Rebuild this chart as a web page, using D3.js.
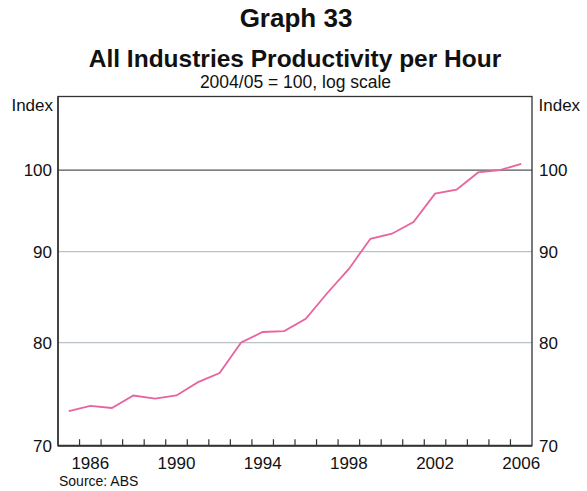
<!DOCTYPE html>
<html>
<head>
<meta charset="utf-8">
<script src="https://cdn.jsdelivr.net/npm/d3@7"></script>
<style>
  body { margin: 0; background: #fff; }
  svg { display: block; font-family: Arial, "Liberation Sans", sans-serif; }
</style>
</head>
<body>
<svg id="chart" width="587" height="491"></svg>
<script>
// Data (fiscal years, plotted mid-year)
const years = [1985,1986,1987,1988,1989,1990,1991,1992,1993,1994,1995,1996,1997,1998,1999,2000,2001,2002,2003,2004,2005,2006];
const productivity = [73.2,73.7,73.5,74.7,74.4,74.7,76.0,76.9,80.0,81.1,81.2,82.5,85.3,88.0,91.5,92.1,93.5,97.0,97.5,99.7,100.0,100.8];
const xTickLabels = [1986,1990,1994,1998,2002,2006];
const yTicks = [70,80,90,100];

(function () {
const svg = d3.select("#chart");
const pLeft = 58, pRight = 532, pTop = 96.5, pBottom = 445.7;

const x = d3.scaleLinear().domain([1985, 2007]).range([pLeft, pRight]);
const y = d3.scaleLog().domain([70, 110]).range([pBottom, pTop]);

// Titles
svg.append("text").attr("x", 296).attr("y", 26.5).attr("text-anchor", "middle")
  .attr("font-size", 26).attr("font-weight", "bold").attr("fill", "#111").text("Graph 33");
svg.append("text").attr("x", 295).attr("y", 66.5).attr("text-anchor", "middle")
  .attr("font-size", 24.5).attr("font-weight", "bold").attr("fill", "#111").text("All Industries Productivity per Hour");
svg.append("text").attr("x", 295.5).attr("y", 88).attr("text-anchor", "middle")
  .attr("font-size", 17.5).attr("fill", "#111").text("2004/05 = 100, log scale");

// Gridlines
svg.append("g").selectAll("line").data(yTicks.filter(d => d > 70)).join("line")
  .attr("x1", pLeft).attr("x2", pRight)
  .attr("y1", d => y(d)).attr("y2", d => y(d))
  .attr("stroke", d => d === 100 ? "#555" : "#b9c0c6")
  .attr("stroke-width", 1.2);

// Bottom axis ticks (inside)
const tickYears = d3.range(1986, 2007);
svg.append("g").selectAll("line").data(tickYears).join("line")
  .attr("x1", d => x(d)).attr("x2", d => x(d))
  .attr("y1", pBottom).attr("y2", pBottom - 6.5)
  .attr("stroke", "#333").attr("stroke-width", 1.2);

// Frame
svg.append("rect").attr("x", pLeft).attr("y", pTop)
  .attr("width", pRight - pLeft).attr("height", pBottom - pTop)
  .attr("fill", "none").attr("stroke", "#333").attr("stroke-width", 1.3);
svg.append("line").attr("x1", pLeft).attr("x2", pRight).attr("y1", pBottom).attr("y2", pBottom)
  .attr("stroke", "#333").attr("stroke-width", 2);
svg.append("line").attr("x1", pLeft).attr("x2", pLeft).attr("y1", pTop).attr("y2", pBottom)
  .attr("stroke", "#333").attr("stroke-width", 1.5);

// Line
const line = d3.line().x((d, i) => x(years[i] + 0.5)).y(d => y(d));
svg.append("path").datum(productivity).attr("d", line)
  .attr("fill", "none").attr("stroke", "#e8649e").attr("stroke-width", 1.8);

// Y labels
svg.append("g").selectAll("text").data(yTicks).join("text")
  .attr("x", 52).attr("y", d => y(d)).attr("dy", "0.36em")
  .attr("text-anchor", "end").attr("font-size", 17).attr("fill", "#111").text(d => d);
svg.append("g").selectAll("text").data(yTicks).join("text")
  .attr("x", 539).attr("y", d => y(d)).attr("dy", "0.36em")
  .attr("text-anchor", "start").attr("font-size", 17).attr("fill", "#111").text(d => d);

svg.append("text").attr("x", 53).attr("y", 110.5).attr("text-anchor", "end")
  .attr("font-size", 17).attr("fill", "#111").text("Index");
svg.append("text").attr("x", 538.5).attr("y", 110.5).attr("text-anchor", "start")
  .attr("font-size", 17).attr("fill", "#111").text("Index");

// X labels
svg.append("g").selectAll("text").data(xTickLabels).join("text")
  .attr("x", d => x(d + 0.5)).attr("y", 468.5).attr("text-anchor", "middle")
  .attr("font-size", 17).attr("fill", "#111").text(d => d);

// Source
svg.append("text").attr("x", 59).attr("y", 486).attr("font-size", 14).attr("fill", "#111").text("Source: ABS");
})();
</script>
</body>
</html>
